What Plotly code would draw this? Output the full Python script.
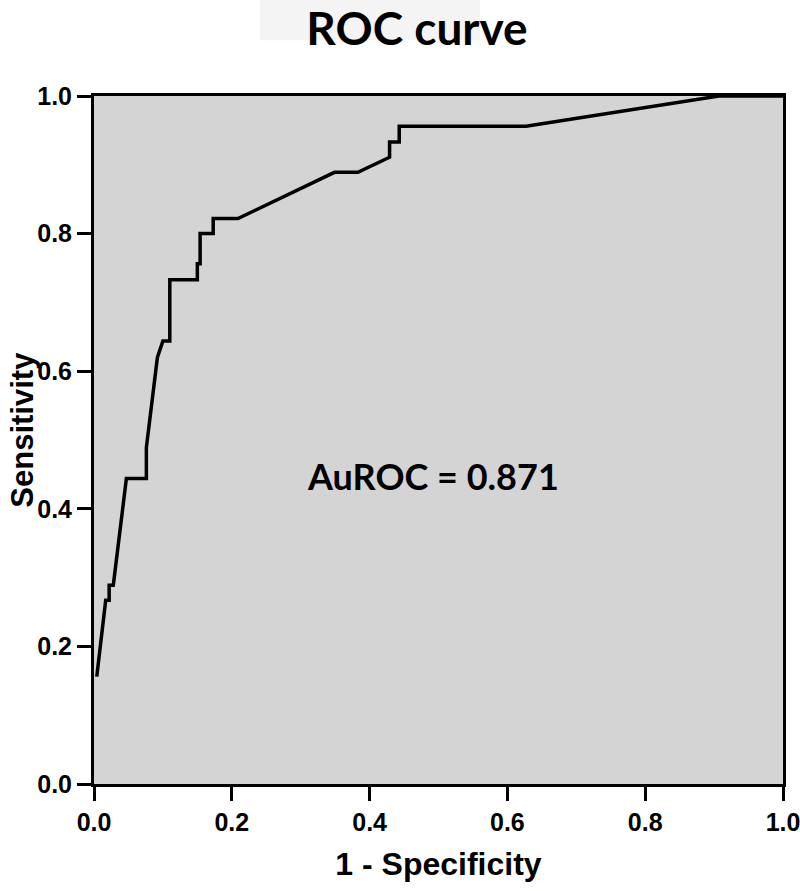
import plotly.graph_objects as go

# ROC curve points (1 - specificity, sensitivity)
fpr = [0.004, 0.017, 0.022, 0.022, 0.028, 0.047, 0.076, 0.076, 0.092, 0.100,
       0.110, 0.110, 0.150, 0.150, 0.154, 0.154, 0.173, 0.173, 0.209, 0.349,
       0.383, 0.429, 0.429, 0.443, 0.443, 0.627, 0.907, 1.0]
tpr = [0.156, 0.267, 0.267, 0.289, 0.289, 0.444, 0.444, 0.489, 0.620, 0.644,
       0.644, 0.733, 0.733, 0.756, 0.756, 0.800, 0.800, 0.822, 0.822, 0.889,
       0.889, 0.911, 0.933, 0.933, 0.956, 0.956, 1.0, 1.0]
tick_vals = [0.0, 0.2, 0.4, 0.6, 0.8, 1.0]
tick_text = ["0.0", "0.2", "0.4", "0.6", "0.8", "1.0"]
auroc = 0.871

AXIS_FONT = "Liberation Sans, Arial, sans-serif"
TEXT_FONT = "Lato, Open Sans, sans-serif"

fig = go.Figure()
fig.add_trace(go.Scatter(
    x=fpr, y=tpr, mode='lines',
    line=dict(color='black', width=3.5),
    showlegend=False
))

fig.add_annotation(
    x=0.492, y=0.448, xref='x', yref='y',
    text="<b>AuROC = %.3f</b>" % auroc, showarrow=False,
    font=dict(family=TEXT_FONT, size=36, color='black')
)

# y axis title as annotation so it can sit a bit above centre
fig.add_annotation(
    x=-0.105, y=0.5145, xref='paper', yref='paper',
    text="<b>Sensitivity</b>", showarrow=False, textangle=-90,
    xanchor='center', yanchor='middle',
    font=dict(family=AXIS_FONT, size=31, color='black')
)

# faint box behind the title
fig.add_shape(type='rect', xref='paper', yref='paper',
              x0=0.241, x1=0.560, y0=1.081, y1=1.14,
              fillcolor='#f4f4f4', line_width=0, layer='below')

axis_common = dict(
    range=[0, 1], tickvals=tick_vals,
    ticktext=["<b>%s</b>" % t for t in tick_text],
    showline=True, linewidth=3, linecolor='black', mirror=True,
    ticks='outside', ticklen=14, tickwidth=3, tickcolor='black',
    showgrid=False, zeroline=False, automargin=False,
    ticklabeloverflow='allow',
    tickfont=dict(family=AXIS_FONT, size=25, color='black'),
)

fig.update_layout(
    width=800, height=891,
    margin=dict(l=94, r=17, t=96, b=107, autoexpand=False),
    paper_bgcolor='white', plot_bgcolor='#d4d4d4',
    title=dict(text="<b>ROC curve</b>", x=417 / 800, xanchor='center',
               y=1 - 29 / 891, yanchor='middle',
               font=dict(family=TEXT_FONT, size=46, color='black')),
    xaxis=dict(axis_common,
               title=dict(text="<b>1 - Specificity</b>", standoff=18,
                          font=dict(family=AXIS_FONT, size=32, color='black'))),
    yaxis=dict(axis_common),
)

fig.write_html("out.html", config={'displayModeBar': False},
               post_script="document.body.style.margin='0';")
